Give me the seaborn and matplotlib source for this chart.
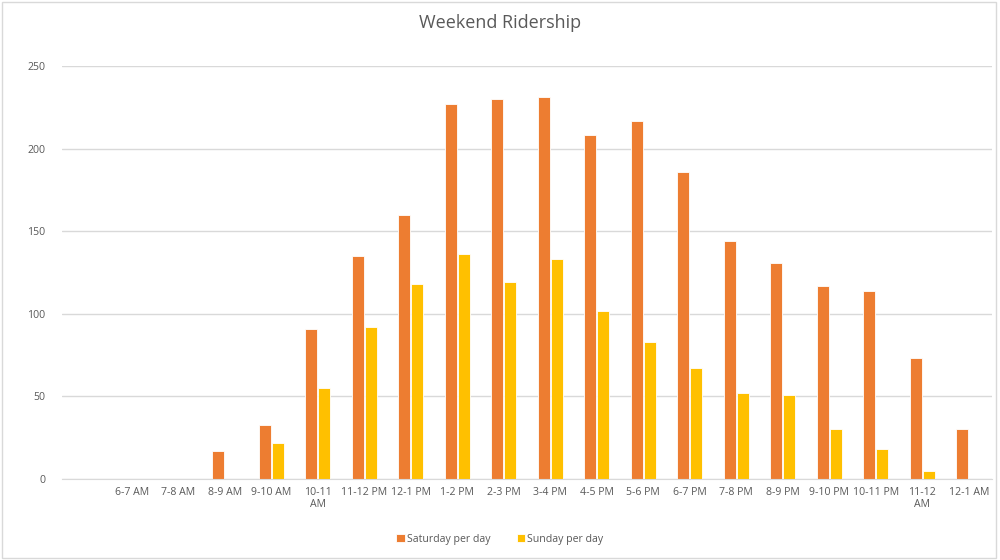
import numpy as np
import pandas as pd
import seaborn as sns
import matplotlib.pyplot as plt
from matplotlib.patches import Rectangle

hours = ["6-7 AM", "7-8 AM", "8-9 AM", "9-10 AM", "10-11\nAM", "11-12 PM", "12-1 PM",
         "1-2 PM", "2-3 PM", "3-4 PM", "4-5 PM", "5-6 PM", "6-7 PM", "7-8 PM",
         "8-9 PM", "9-10 PM", "10-11 PM", "11-12\nAM", "12-1 AM"]
saturday = [0, 0, 17, 33, 91, 135, 160, 227, 230, 231, 208, 217, 186, 144, 131, 117, 114, 73, 30]
sunday = [0, 0, 0, 22, 55, 92, 118, 136, 119, 133, 102, 83, 67, 52, 51, 30, 18, 5, 0]
series = ["Saturday per day", "Sunday per day"]

df = pd.DataFrame({
    "hour": hours * 2,
    "riders": saturday + sunday,
    "series": [series[0]] * len(hours) + [series[1]] * len(hours),
})

sns.set_style("white")
plt.rcParams['font.family'] = ['Open Sans', 'DejaVu Sans']
text_col = "#595959"

fig = plt.figure(figsize=(10, 5.6), dpi=100)
ax = fig.add_axes([0.062, 0.1446, 0.930, 0.7375])

sns.barplot(data=df, x="hour", y="riders", hue="series", order=hours,
            palette=["#ED7D31", "#FFC000"], saturation=1, width=0.56, gap=0.1,
            edgecolor="white", linewidth=0.6, ax=ax, legend=True)

ax.set_xlim(-1.5, len(hours) - 0.5)
ax.set_ylim(0, 250)
ax.set_yticks([0, 50, 100, 150, 200, 250])
ax.yaxis.grid(True, color="#D9D9D9", linewidth=1)
ax.set_axisbelow(True)
for s in ["top", "right", "left"]:
    ax.spines[s].set_visible(False)
ax.spines["bottom"].set_color("#D9D9D9")
ax.tick_params(axis="both", length=0, labelsize=7.6, colors=text_col)
ax.tick_params(axis="y", pad=12)
ax.tick_params(axis="x", pad=6)
for lab in ax.get_xticklabels():
    lab.set_linespacing(1.1)
    lab.set_verticalalignment("top")
ax.set_xlabel("")
ax.set_ylabel("")

fig.suptitle("Weekend Ridership", y=0.975, fontsize=13, color=text_col)

handles, labels = ax.get_legend_handles_labels()
ax.get_legend().remove()
fig.legend(handles, labels, loc="center", bbox_to_anchor=(0.5, 0.037), ncol=2,
           frameon=False, fontsize=7.6, labelcolor=text_col, handlelength=0.8,
           handleheight=0.8, handletextpad=0.2, columnspacing=2.5)

fig.patches.append(Rectangle((0.002, 0.004), 0.994, 0.992, transform=fig.transFigure,
                             fill=False, edgecolor="#D9D9D9", linewidth=1))

fig.savefig("out.png", dpi=100)
